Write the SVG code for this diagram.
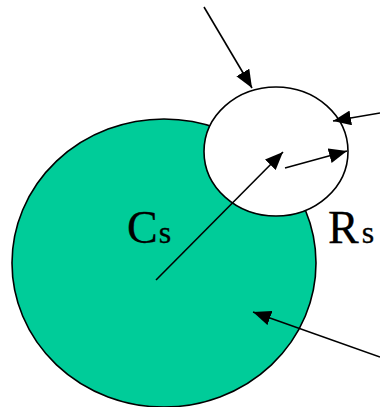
<svg xmlns="http://www.w3.org/2000/svg" width="380" height="407" viewBox="0 0 380 407">
<style>
.shape{stroke:#000;stroke-width:1.6}
.conn{stroke:#000;stroke-width:1.6;fill:none;marker-end:url(#ah)}
.lbl{font-family:"Liberation Serif","Times New Roman",serif;fill:#000;stroke:#000;stroke-width:0.3}
</style>
<defs>
<marker id="ah" markerUnits="userSpaceOnUse" markerWidth="19" markerHeight="15" viewBox="0 0 19 15" refX="18" refY="7.5" orient="auto">
<path d="M0,0 L18,7.5 L0,15 Z" fill="#000"/>
</marker>
</defs>
<g id="large-circle">
<ellipse class="shape" cx="164" cy="263" rx="152" ry="144" fill="#00CC99"/>
</g>
<g id="small-circle">
<ellipse class="shape" cx="276" cy="151.5" rx="72" ry="64.5" fill="#FFFFFF"/>
</g>
<g id="connectors">
<line class="conn" x1="204" y1="7" x2="252" y2="88"/>
<line class="conn" x1="380" y1="113" x2="333" y2="121"/>
<line class="conn" x1="156" y1="280" x2="283" y2="152"/>
<line class="conn" x1="285" y1="168" x2="347" y2="151"/>
<line class="conn" x1="380" y1="357" x2="253" y2="312"/>
</g>
<g id="label-cs">
<text class="lbl" x="127" y="243" font-size="46">C<tspan dx="1" font-size="32">s</tspan></text>
</g>
<g id="label-rs">
<text class="lbl" x="328" y="243" font-size="46">R<tspan dx="3" font-size="32">s</tspan></text>
</g>
</svg>
